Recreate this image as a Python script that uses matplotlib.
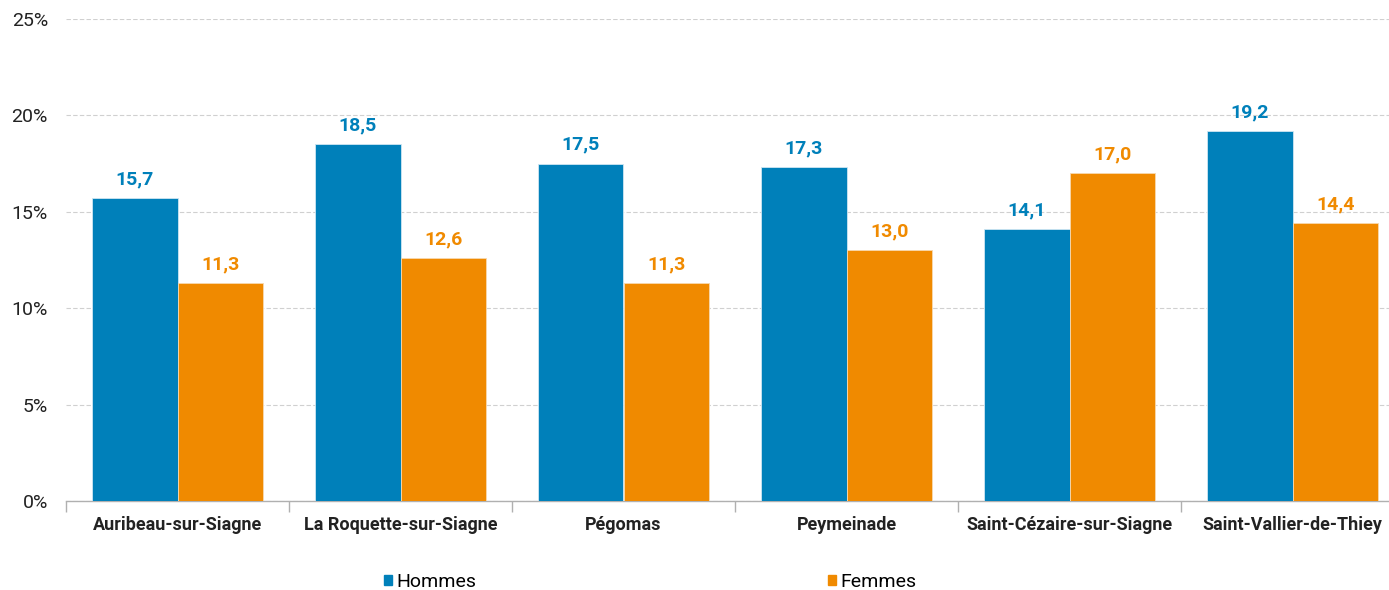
import numpy as np
import matplotlib
matplotlib.use('Agg')
import matplotlib.pyplot as plt
from matplotlib.patches import Patch

communes = ['Auribeau-sur-Siagne', 'La Roquette-sur-Siagne', 'Pégomas',
            'Peymeinade', 'Saint-Cézaire-sur-Siagne', 'Saint-Vallier-de-Thiey']
hommes = [15.7, 18.5, 17.5, 17.3, 14.1, 19.2]
femmes = [11.3, 12.6, 11.3, 13.0, 17.0, 14.4]
yticks = [0, 5, 10, 15, 20, 25]

BLUE = '#0080BA'
ORANGE = '#F08A00'

plt.rcParams['font.family'] = ['Roboto', 'DejaVu Sans']

fig = plt.figure(figsize=(13.89, 5.90), dpi=100)
# right edge of the axis runs just past the image, as in the reference
ax = fig.add_axes([66 / 1389, 89 / 590, 1338 / 1389, 482 / 590])

x = np.arange(len(communes))
w = 0.385
ax.bar(x - w / 2, hommes, w, color=BLUE, edgecolor='#cfe6f2', linewidth=0.6, zorder=3)
ax.bar(x + w / 2, femmes, w, color=ORANGE, edgecolor='#f7d9b0', linewidth=0.6, zorder=3)

for xi, v in zip(x, hommes):
    ax.annotate(f'{v:.1f}'.replace('.', ','), (xi - w / 2, v), xytext=(0, 7),
                textcoords='offset points', ha='center', va='bottom',
                color=BLUE, fontsize=14, fontweight='bold')
for xi, v in zip(x, femmes):
    ax.annotate(f'{v:.1f}'.replace('.', ','), (xi + w / 2, v), xytext=(0, 7),
                textcoords='offset points', ha='center', va='bottom',
                color=ORANGE, fontsize=14, fontweight='bold')

ax.set_xlim(-0.5, len(communes) - 0.5)
ax.set_ylim(0, 25)
ax.set_yticks(yticks)
ax.set_yticklabels([f'{t}%' for t in yticks], fontsize=14, color='#222222')
ax.yaxis.grid(True, color='#d0d0d0', linestyle=(0, (4, 2)), linewidth=0.8, zorder=0)
ax.tick_params(axis='y', length=0, pad=13)

ax.set_xticks(x)
ax.set_xticklabels(communes, fontsize=13, fontweight='bold', color='#222222')
ax.tick_params(axis='x', length=0, pad=11)
ax.set_xticks(np.arange(len(communes) + 1) - 0.5, minor=True)
ax.tick_params(axis='x', which='minor', length=8, color='#b0b0b0', width=1)

for s in ('top', 'right', 'left'):
    ax.spines[s].set_visible(False)
ax.spines['bottom'].set_color('#b0b0b0')
ax.spines['bottom'].set_linewidth(1)

handles = [Patch(color=BLUE, label='Hommes'), Patch(color=ORANGE, label='Femmes')]
fig.legend(handles=handles, loc='center', bbox_to_anchor=(0.468, 0.013),
           ncol=2, frameon=False, fontsize=14, columnspacing=18.1,
           handlelength=0.42, handleheight=0.42, handletextpad=0.2)

fig.savefig('out.png', dpi=100)
